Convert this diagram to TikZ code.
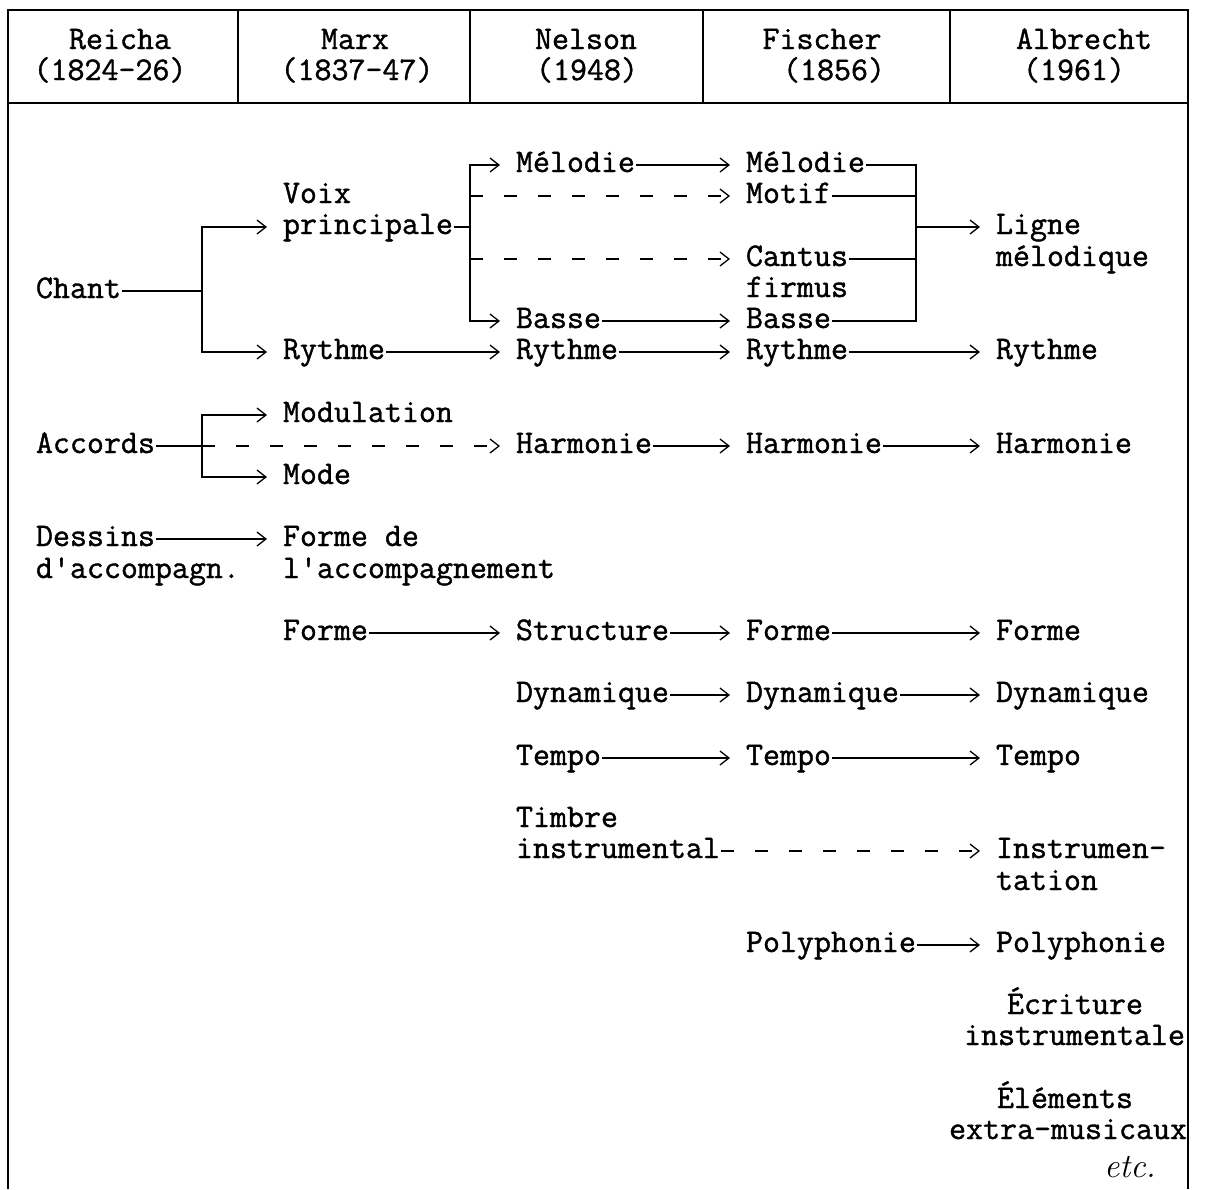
\documentclass[tikz,border=0pt]{standalone}
\usepackage{fontspec}
\newfontfamily\txtfont[FakeBold=1.2]{Latin Modern Mono}
\usetikzlibrary{arrows.meta}
\begin{document}
\begin{tikzpicture}[x=1pt,y=-1pt,
  lbl/.style={anchor=west, inner sep=0pt, outer sep=1pt, text height=14pt, text depth=0pt, font=\txtfont\fontsize{33}{35}\selectfont},
  hdr/.style={lbl, anchor=center},
  ln/.style={line width=1.3pt},
  arr/.style={ln, -{Straight Barb[length=9pt,width=14pt]}, shorten >=15pt},
  dsh/.style={dash pattern=on 13pt off 21pt}
]
\useasboundingbox (0,0) rectangle (1207,1189);
% frame
\draw[ln] (8,1189) -- (8,10) -- (1188,10) -- (1188,1189);
\draw[ln] (8,103) -- (1188,103);
\foreach \xx in {238,470,703,950} \draw[ln] (\xx,10) -- (\xx,103);
\begin{scope}[yshift=-2pt]
% header
\node[hdr] (h1a) at (120,40) {Reicha};
\node[hdr] (h1b) at (110,71) {(1824-26)};
\node[hdr] (h2a) at (355,40) {Marx};
\node[hdr] (h2b) at (357,71) {(1837-47)};
\node[hdr] (h3a) at (586,40) {Nelson};
\node[hdr] (h3b) at (587,71) {(1948)};
\node[hdr] (h4a) at (822,40) {Fischer};
\node[hdr] (h4b) at (834,71) {(1856)};
\node[hdr] (h5a) at (1084,40) {Albrecht};
\node[hdr] (h5b) at (1074,71) {(1961)};
% body
\node[lbl] (voix1) at (282,194) {Voix};
\node[lbl] (voix2) at (282,225) {principale};
\node[lbl] (melN) at (515,163) {Mélodie};
\node[lbl] (melF) at (745,163) {Mélodie};
\node[lbl] (motif) at (745,194) {Motif};
\node[lbl] (ligne1) at (995,225) {Ligne};
\node[lbl] (ligne2) at (995,257) {mélodique};
\node[lbl] (cant1) at (745,257) {Cantus};
\node[lbl] (cant2) at (745,288) {firmus};
\node[lbl] (chant) at (35,289) {Chant};
\node[lbl] (basN) at (515,319) {Basse};
\node[lbl] (basF) at (745,319) {Basse};
\node[lbl] (ryM) at (282,350) {Rythme};
\node[lbl] (ryN) at (515,350) {Rythme};
\node[lbl] (ryF) at (745,350) {Rythme};
\node[lbl] (ryA) at (995,350) {Rythme};
\node[lbl] (modul) at (282,413) {Modulation};
\node[lbl] (accords) at (35,444) {Accords};
\node[lbl] (harN) at (515,444) {Harmonie};
\node[lbl] (harF) at (745,444) {Harmonie};
\node[lbl] (harA) at (995,444) {Harmonie};
\node[lbl] (mode) at (282,475) {Mode};
\node[lbl] (dess1) at (35,537) {Dessins};
\node[lbl] (dess2) at (35,569) {d'accompagn.};
\node[lbl] (fdm1) at (282,537) {Forme de};
\node[lbl] (fdm2) at (282,569) {l'accompagnement};
\node[lbl] (formM) at (282,631) {Forme};
\node[lbl] (struct) at (515,631) {Structure};
\node[lbl] (formF) at (745,631) {Forme};
\node[lbl] (formA) at (995,631) {Forme};
\node[lbl] (dynN) at (515,693) {Dynamique};
\node[lbl] (dynF) at (745,693) {Dynamique};
\node[lbl] (dynA) at (995,693) {Dynamique};
\node[lbl] (tmpN) at (515,756) {Tempo};
\node[lbl] (tmpF) at (745,756) {Tempo};
\node[lbl] (tmpA) at (995,756) {Tempo};
\node[lbl] (timb1) at (515,818) {Timbre};
\node[lbl] (timb2) at (515,849) {instrumental};
\node[lbl] (instr1) at (995,849) {Instrumen-};
\node[lbl] (instr2) at (995,881) {tation};
\node[lbl] (polF) at (745,943) {Polyphonie};
\node[lbl] (polA) at (995,943) {Polyphonie};
\node[lbl, anchor=center] (ecr1) at (1075,1005) {Écriture};
\node[lbl, anchor=east] (ecr2) at (1186,1036) {instrumentale};
\node[lbl, anchor=center] (ele1) at (1065,1099) {Éléments};
\node[lbl, anchor=east] (ele2) at (1188,1130) {extra-musicaux};
\node[inner sep=0pt, font=\itshape\fontsize{34}{36}\selectfont] (etc) at (1130,1165) {etc.};
% forks and connectors
\coordinate (fkA) at (202,289);
\coordinate (fkB) at (470,225);
\coordinate (mgA) at (916,225);
\coordinate (fkC) at (202,444);
\draw[arr] (chant.east) -- (fkA) |- (voix2.west);
\draw[arr] (fkA) |- (ryM.west);
\draw[ln] (voix2.east) -- (fkB);
\draw[arr] (fkB) |- (melN.west);
\draw[arr] (fkB) |- (basN.west);
\draw[arr,dsh] (fkB |- motif.west) -- (motif.west);
\draw[arr,dsh] (fkB |- cant1.west) -- (cant1.west);
\draw[arr] (melN.east) -- (melF.west);
\draw[arr] (basN.east) -- (basF.west);
\draw[ln] (melF.east) -| (mgA) |- (basF.east);
\draw[ln] (motif.east) -- (mgA |- motif.east);
\draw[ln] (cant1.east) -- (mgA |- cant1.east);
\draw[arr] (mgA) -- (ligne1.west);
\draw[arr] (ryM.east) -- (ryN.west);
\draw[arr] (ryN.east) -- (ryF.west);
\draw[arr] (ryF.east) -- (ryA.west);
\draw[ln] (accords.east) -- (fkC);
\draw[arr] (fkC) |- (modul.west);
\draw[arr] (fkC) |- (mode.west);
\draw[arr,dsh] (fkC) -- (harN.west);
\draw[arr] (harN.east) -- (harF.west);
\draw[arr] (harF.east) -- (harA.west);
\draw[arr] (dess1.east) -- (fdm1.west);
\draw[arr] (formM.east) -- (struct.west);
\draw[arr] (struct.east) -- (formF.west);
\draw[arr] (formF.east) -- (formA.west);
\draw[arr] (dynN.east) -- (dynF.west);
\draw[arr] (dynF.east) -- (dynA.west);
\draw[arr] (tmpN.east) -- (tmpF.west);
\draw[arr] (tmpF.east) -- (tmpA.west);
\draw[arr,dsh] (timb2.east) -- (instr1.west);
\draw[arr] (polF.east) -- (polA.west);
\end{scope}
\end{tikzpicture}
\end{document}
